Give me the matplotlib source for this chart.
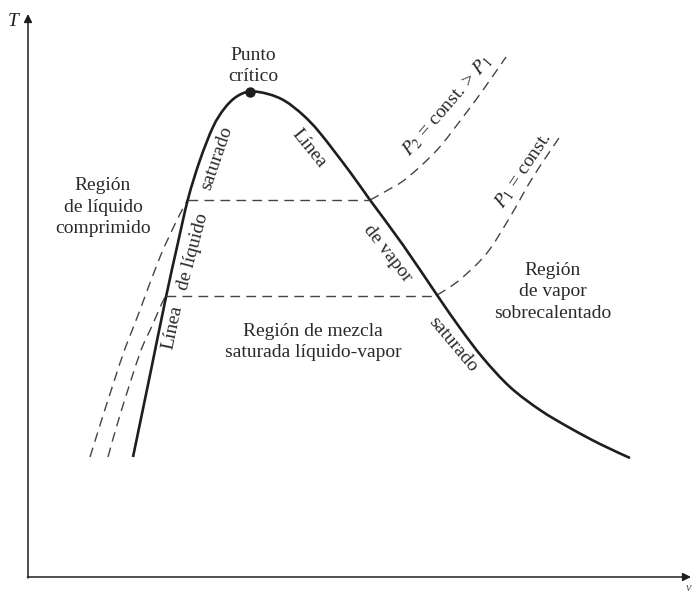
import numpy as np
import matplotlib.pyplot as plt
from matplotlib.path import Path
from matplotlib.patches import PathPatch

plt.rcParams['font.family'] = ['Liberation Serif', 'DejaVu Serif']
plt.rcParams['mathtext.fontset'] = 'stix'

# schematic T-v diagram, coordinates in image units (v to the right, T downward-inverted)
# saturated liquid line (bottom -> critical point)
v_liq = [133, 150, 166, 177, 188, 200, 213, 224, 236, 250]
T_liq = [457, 375, 297, 247, 199, 160, 127, 109, 97, 91.5]
# saturated vapor line (critical point -> bottom right)
v_vap = [250, 268, 285, 303, 320, 350, 370, 403, 437, 460, 483, 510, 540, 570, 600, 630]
T_vap = [91.5, 94, 101, 115, 133, 172, 200, 245, 295, 328, 358, 387, 410, 428, 444, 458]

# isobars
v_p2_liq = [90, 120, 140, 160, 177, 188]
T_p2_liq = [457, 363, 310, 257, 220, 199]
v_p2_vap = [370, 388, 407, 437, 463, 483, 506]
T_p2_vap = [200, 190, 178, 150, 117, 90, 57]
v_p1_liq = [108, 120, 140, 152, 162, 166]
T_p1_liq = [457, 415, 353, 326, 303, 296]
v_p1_vap = [437, 450, 463, 487, 510, 533, 561]
T_p1_vap = [295, 287, 277, 253, 217, 177, 135]

T_high, T_low = 199.5, 296
v_crit, T_crit = 250, 92


def smooth_path(xs, ys):
    # Catmull-Rom through the points, drawn as cubic Bezier segments
    p = np.column_stack([xs, ys]).astype(float)
    ext = np.vstack([p[0], p, p[-1]])
    verts = [p[0]]
    codes = [Path.MOVETO]
    for i in range(len(p) - 1):
        p0, p1, p2, p3 = ext[i], ext[i + 1], ext[i + 2], ext[i + 3]
        verts += [p1 + (p2 - p0) / 6, p2 - (p3 - p1) / 6, p2]
        codes += [Path.CURVE4] * 3
    return Path(verts, codes)


fig = plt.figure(figsize=(6.92, 5.95), dpi=100)
ax = fig.add_axes([0, 0, 1, 1])
ax.set_xlim(0, 692)
ax.set_ylim(595, 0)
ax.axis('off')

ink = '#1e1e1e'
dash_col = '#444444'
dash_style = (0, (7, 4.5))

# axes with arrows
ax.annotate('', xy=(28, 14), xytext=(28, 578),
            arrowprops=dict(arrowstyle='-|>', lw=1.1, color=ink, mutation_scale=12,
                            shrinkA=0, shrinkB=0))
ax.annotate('', xy=(691, 577), xytext=(27.5, 577),
            arrowprops=dict(arrowstyle='-|>', lw=1.1, color=ink, mutation_scale=12,
                            shrinkA=0, shrinkB=0))
ax.text(13, 22, 'T', fontsize=14, style='italic', ha='center', va='center', color=ink)
ax.text(691, 588, 'v', fontsize=9, style='italic', ha='right', va='center', color='#555555')

# isobars
for xs, ys in [(v_p2_liq, T_p2_liq), (v_p1_liq, T_p1_liq), (v_p2_vap, T_p2_vap), (v_p1_vap, T_p1_vap)]:
    ax.add_patch(PathPatch(smooth_path(xs, ys), fill=False, edgecolor=dash_col, lw=1.0,
                           linestyle=dash_style))
ax.plot([188, 370], [T_high, T_high], color=dash_col, lw=1.0, linestyle=dash_style)
ax.plot([166, 437], [T_low, T_low], color=dash_col, lw=1.0, linestyle=dash_style)

# saturation dome
ax.add_patch(PathPatch(smooth_path(v_liq + v_vap[1:], T_liq + T_vap[1:]), fill=False,
                       edgecolor=ink, lw=1.9, capstyle='butt', joinstyle='round'))
ax.plot(v_crit, T_crit, 'o', color=ink, ms=6.5)

fs = 14
tc = '#2a2a2a'
ls = 1.32
ax.text(253, 66, 'Punto\ncrítico', fontsize=fs, ha='center', va='center', linespacing=ls, color=tc)
ax.text(103, 207, 'Región\nde líquido\ncomprimido', fontsize=fs, ha='center', va='center',
        linespacing=ls, color=tc)
ax.text(553, 292, 'Región\nde vapor\nsobrecalentado', fontsize=fs, ha='center', va='center',
        linespacing=ls, color=tc)
ax.text(313, 342, 'Región de mezcla\nsaturada líquido-vapor', fontsize=fs, ha='center', va='center',
        linespacing=ls, color=tc)

rot = dict(fontsize=fs, ha='center', va='center', color=tc, rotation_mode='anchor')
ax.text(217, 158, 'saturado', rotation=71, **rot)
ax.text(193, 252, 'de líquido', rotation=75, **rot)
ax.text(173, 327, 'Línea', rotation=78, **rot)
ax.text(309, 148, 'Línea', rotation=-51, **rot)
ax.text(388, 253, 'de vapor', rotation=-52, **rot)
ax.text(453, 345, 'saturado', rotation=-50, **rot)
ax.text(447, 106, r'$P_2$ = const. > $P_1$', rotation=49, **rot)
ax.text(523, 170, r'$P_1$ = const.', rotation=56, **rot)

fig.savefig('out.png', dpi=100)
